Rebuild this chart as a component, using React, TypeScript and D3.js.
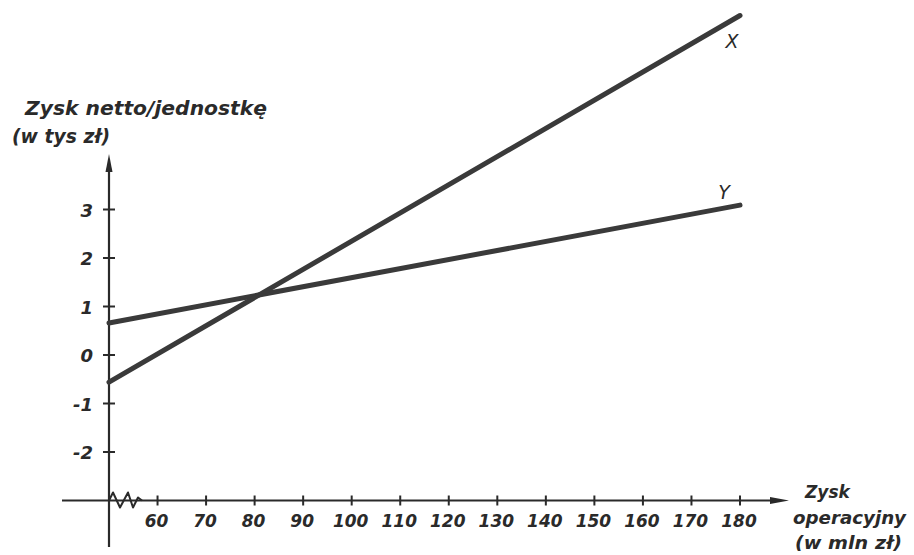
import React from 'react';
import * as d3 from 'd3';

// Zysk operacyjny (w mln zł) – końce prostych
const operatingProfit = [50, 180];
// Zysk netto / jednostkę (w tys zł)
const netPerUnitX = [-0.56, 7.0];
const netPerUnitY = [0.66, 3.09];

const xTicks = [60, 70, 80, 90, 100, 110, 120, 130, 140, 150, 160, 170, 180];
const yTicks = [-2, -1, 0, 1, 2, 3];

const W = 914;
const H = 555;
const FONT = '"DejaVu Sans", sans-serif';
const INK = '#2a2a2a';

const App: React.FC = () => {
  const x = d3.scaleLinear().domain([50, 180]).range([109, 740]);
  const y = d3.scaleLinear().domain([-3, 7]).range([500.5, 15.5]);

  const line = d3.line<[number, number]>()
    .x(d => x(d[0]))
    .y(d => y(d[1]));

  const ptsX = operatingProfit.map((v, i) => [v, netPerUnitX[i]] as [number, number]);
  const ptsY = operatingProfit.map((v, i) => [v, netPerUnitY[i]] as [number, number]);

  const ox = x(50);
  const oy = y(-3);

  // zigzag break on the horizontal axis
  const zig = `M${ox},${oy} L${ox + 4},${oy - 8} L${ox + 11},${oy + 7} L${ox + 19},${oy - 8} L${ox + 24},${oy + 7} L${ox + 29},${oy - 3} L${ox + 33},${oy}`;

  return (
    <svg
      width={W}
      height={H}
      style={{ position: 'absolute', left: 0, top: 0, background: '#fff' }}
      fontFamily={FONT}
      fontStyle="italic"
    >
      {/* y axis */}
      <line x1={ox} x2={ox} y1={547} y2={168} stroke={INK} strokeWidth={2.2} />
      <path d={`M${ox},${154} L${ox - 3.5},${172} L${ox + 3.5},${172} Z`} fill={INK} />
      {yTicks.map(t => (
        <g key={`y${t}`}>
          <line x1={ox - 6} x2={ox + 6} y1={y(t)} y2={y(t)} stroke={INK} strokeWidth={2} />
          <text x={93} y={y(t) + 7} textAnchor="end" fontSize={18} fontWeight={600} fill={INK}>
            {t}
          </text>
        </g>
      ))}

      {/* x axis */}
      <line x1={62} x2={775} y1={oy} y2={oy} stroke={INK} strokeWidth={2.2} />
      <path d={`M${789},${oy} L${770},${oy - 3.5} L${770},${oy + 3.5} Z`} fill={INK} />
      <path d={zig} fill="none" stroke={INK} strokeWidth={2} strokeLinejoin="round" />
      {xTicks.map(t => (
        <g key={`x${t}`}>
          <line x1={x(t)} x2={x(t)} y1={oy - 5} y2={oy + 5} stroke={INK} strokeWidth={2} />
          <text x={x(t) - 1} y={oy + 26} textAnchor="middle" fontSize={17} fontWeight={600} fill={INK}>
            {t}
          </text>
        </g>
      ))}

      {/* lines */}
      <path d={line(ptsY) || ''} fill="none" stroke="#3a3a3a" strokeWidth={5} strokeLinecap="round" />
      <path d={line(ptsX) || ''} fill="none" stroke="#3a3a3a" strokeWidth={5} strokeLinecap="round" />
      <text x={x(180) - 8} y={y(netPerUnitX[1]) + 32} textAnchor="middle" fontSize={19} fill={INK}>X</text>
      <text x={x(180) - 16} y={y(netPerUnitY[1]) - 6} textAnchor="middle" fontSize={19} fill={INK}>Y</text>

      {/* axis titles */}
      <text x={25} y={115} fontSize={20} fontWeight={600} fill={INK} textLength={242} lengthAdjust="spacingAndGlyphs">
        Zysk netto/jednostkę
      </text>
      <text x={12} y={143} fontSize={19} fontWeight={600} fill={INK} textLength={98} lengthAdjust="spacingAndGlyphs">
        (w tys zł)
      </text>
      <text x={805} y={498} fontSize={17} fontWeight={600} fill={INK}>Zysk</text>
      <text x={793} y={524} fontSize={17} fontWeight={600} fill={INK} textLength={113} lengthAdjust="spacingAndGlyphs">
        operacyjny
      </text>
      <text x={795} y={549} fontSize={17} fontWeight={600} fill={INK} textLength={107} lengthAdjust="spacingAndGlyphs">
        (w mln zł)
      </text>
    </svg>
  );
};

export default App;
